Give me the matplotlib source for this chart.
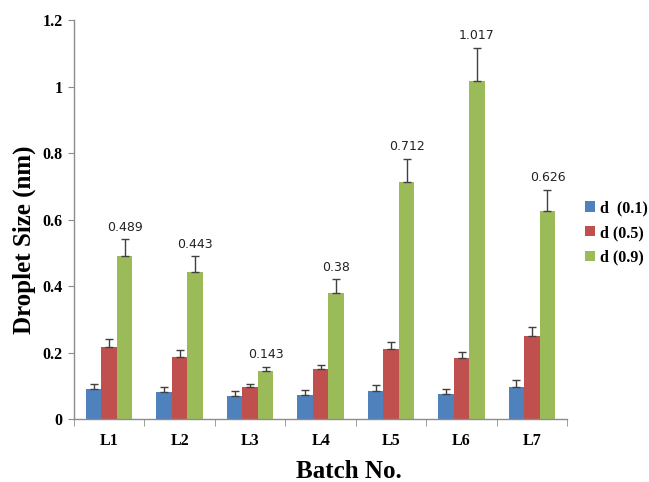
import numpy as np
import matplotlib
matplotlib.use("Agg")
import matplotlib.pyplot as plt
from matplotlib.patches import Patch

batches = ["L1", "L2", "L3", "L4", "L5", "L6", "L7"]
series_names = ["d  (0.1)", "d (0.5)", "d (0.9)"]

d10 = [0.090, 0.080, 0.069, 0.072, 0.084, 0.076, 0.097]
d50 = [0.217, 0.186, 0.096, 0.149, 0.210, 0.183, 0.250]
d90 = [0.489, 0.443, 0.143, 0.380, 0.712, 1.017, 0.626]

d10_err = [0.015, 0.016, 0.014, 0.014, 0.019, 0.015, 0.020]
d50_err = [0.023, 0.021, 0.010, 0.014, 0.022, 0.019, 0.026]
d90_err = [0.052, 0.047, 0.014, 0.040, 0.070, 0.100, 0.063]

d90_labels = ["0.489", "0.443", "0.143", "0.38", "0.712", "1.017", "0.626"]

yticks = [0, 0.2, 0.4, 0.6, 0.8, 1.0, 1.2]
ytick_labels = ["0", "0.2", "0.4", "0.6", "0.8", "1", "1.2"]

colors = ["#4F81BD", "#C0504D", "#9BBB59"]
axis_gray = "#8c8c8c"
err_color = "#404040"
serif = ["Liberation Serif", "DejaVu Serif"]

fig = plt.figure(figsize=(6.49, 4.82), dpi=100)
ax = fig.add_axes([0.114, 0.1307, 0.760, 0.8278])

x = np.arange(len(batches))
width = 0.22
offsets = [-width, 0.0, width]
values = [d10, d50, d90]
errors = [d10_err, d50_err, d90_err]

for vals, errs, off, col in zip(values, errors, offsets, colors):
    errs = np.asarray(errs)
    ax.bar(x + off, vals, width, color=col, edgecolor="none", zorder=2)
    ax.errorbar(x + off, vals, yerr=[np.zeros_like(errs), errs], fmt="none",
                ecolor=err_color, elinewidth=1.0, capsize=2.8, capthick=1.0,
                zorder=3)

for xi, v, e, lab in zip(x, d90, d90_err, d90_labels):
    ax.annotate(lab, (xi + width, v + e), xytext=(0, 4),
                textcoords="offset points", ha="center", va="bottom",
                fontsize=9, color="#222222", family="DejaVu Sans")

ax.set_xlim(-0.5, len(batches) - 0.5)
ax.set_ylim(0, 1.2)

ax.set_xticks(x)
ax.set_xticklabels(batches, fontsize=11.5, fontweight="bold", family=serif)
ax.set_xticks(np.arange(-0.5, len(batches), 1.0), minor=True)
ax.tick_params(axis="x", which="major", length=0, pad=10)
ax.tick_params(axis="x", which="minor", length=5, direction="out",
               color=axis_gray)

ax.set_yticks(yticks)
ax.set_yticklabels(ytick_labels, fontsize=11.5, fontweight="bold", family=serif)
ax.tick_params(axis="y", length=4, direction="out", color=axis_gray, pad=4)

for side in ["top", "right"]:
    ax.spines[side].set_visible(False)
for side in ["left", "bottom"]:
    ax.spines[side].set_color(axis_gray)
    ax.spines[side].set_linewidth(1.0)

ax.set_ylabel("Droplet Size (nm)", fontsize=18, fontweight="bold",
              family=serif)
ax.yaxis.set_label_coords(-0.078, 0.449)

fig.text(349 / 649, 1 - 472 / 482, "Batch No.", fontsize=18,
         fontweight="bold", family=serif, ha="center", va="center")

handles = [Patch(facecolor=c, edgecolor="none") for c in colors]
fig.legend(handles, series_names, loc="upper left",
           bbox_to_anchor=(0.892, 0.598), frameon=False,
           handlelength=0.6, handleheight=0.6, handletextpad=0.3,
           labelspacing=0.55, borderaxespad=0,
           prop={"family": serif, "weight": "bold", "size": 11.5})

fig.savefig("out.png", dpi=100, facecolor="white")
